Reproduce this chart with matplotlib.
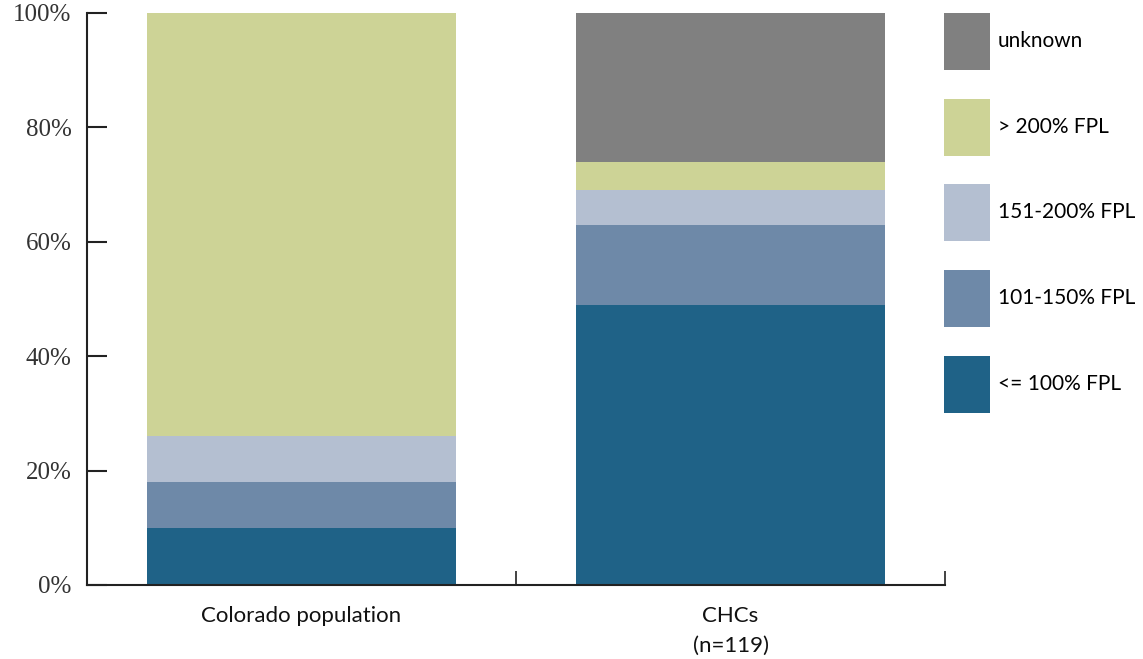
from matplotlib import pyplot as plt
from matplotlib.patches import Patch
from matplotlib.ticker import FixedLocator

# Data (percent of population by poverty level)
categories = ["Colorado population", "CHCs\n(n=119)"]
levels = ["<= 100% FPL", "101-150% FPL", "151-200% FPL", "> 200% FPL", "unknown"]
le_100 = [10, 49]
fpl_101_150 = [8, 14]
fpl_151_200 = [8, 6]
gt_200 = [74, 5]
unknown = [0, 26]
y_ticks = [0, 20, 40, 60, 80, 100]
y_tick_labels = ["0%", "20%", "40%", "60%", "80%", "100%"]

colors = ["#1f6287", "#6e89a8", "#b4bfd1", "#cdd396", "#808080"]
series = [le_100, fpl_101_150, fpl_151_200, gt_200, unknown]

fig = plt.figure(figsize=(11.43, 6.59), dpi=100)
ax = fig.add_axes([0.0761, 0.1123, 0.7507, 0.868])

x = [0.5, 1.5]
bottom = [0, 0]
for vals, col in zip(series, colors):
    ax.bar(x, vals, width=0.718, bottom=bottom, color=col, linewidth=0)
    bottom = [b + v for b, v in zip(bottom, vals)]

ax.set_xlim(0, 2)
ax.set_ylim(0, 100)

# axes styling
for s in ["top", "right"]:
    ax.spines[s].set_visible(False)
for s in ["left", "bottom"]:
    ax.spines[s].set_linewidth(1.5)
    ax.spines[s].set_color("#222222")

ax.set_yticks(y_ticks)
ax.set_yticklabels(y_tick_labels, family="Liberation Serif", fontsize=18, color="#333333")
ax.tick_params(axis="y", direction="in", length=14.5, width=1.5, color="#222222", pad=11)

ax.set_xticks(x)
ax.set_xticklabels(categories, family="Lato", fontsize=16, color="#111111", linespacing=1.6, va="top")
ax.tick_params(axis="x", which="major", length=0, pad=15)
ax.xaxis.set_minor_locator(FixedLocator([0, 1, 2]))
ax.tick_params(axis="x", which="minor", direction="in", length=10, width=1.2, color="#222222")

# legend, top entry first
handles = [Patch(facecolor=c, edgecolor="none") for c in colors][::-1]
leg = fig.legend(handles, levels[::-1], loc="upper left", bbox_to_anchor=(944 / 1143, 1 - 13 / 659),
                 frameon=False, borderpad=0, borderaxespad=0, handlelength=2.21, handleheight=3.84,
                 labelspacing=1.37, handletextpad=0.38, prop={"family": "Lato", "size": 15})

plt.savefig("out.png", dpi=100)
